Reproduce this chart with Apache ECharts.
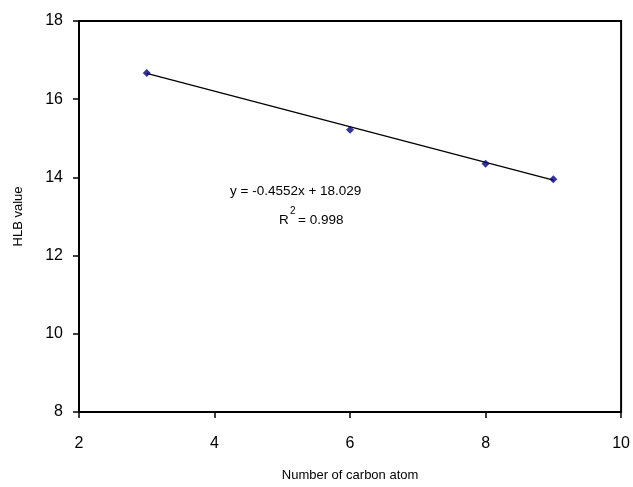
<!DOCTYPE html>
<html><head><meta charset="utf-8">
<script src="https://cdn.jsdelivr.net/npm/echarts@6/dist/echarts.min.js"></script>
<style>html,body{margin:0;padding:0;background:#fff}#c{width:633px;height:487px}</style>
</head><body><div id="c"></div>
<script>
const carbonAtoms = [3, 6, 8, 9];
const hlbValues = [16.67, 15.22, 14.35, 13.95];
const trendX = [3, 9];
const trendY = [16.66, 13.93];
const equationText = 'y = -0.4552x + 18.029';
const r2Text = '0.998';

const pts = carbonAtoms.map((x, i) => [x, hlbValues[i]]);
const trend = trendX.map((x, i) => [x, trendY[i]]);
const font = '"Liberation Sans", Arial, sans-serif';

const chart = echarts.init(document.getElementById('c'));
chart.setOption({
  animation: false,
  backgroundColor: '#fff',
  grid: { left: 79, right: 11, top: 21, bottom: 72, show: true, borderColor: '#000', borderWidth: 2, backgroundColor: '#fff' },
  xAxis: {
    type: 'value', min: 2, max: 10, interval: 2,
    name: 'Number of carbon atom', nameLocation: 'middle', nameGap: 57,
    nameTextStyle: { fontFamily: font, fontSize: 13, color: '#000' },
    axisLine: { lineStyle: { color: '#000', width: 2 } },
    axisTick: { show: true, length: 6, lineStyle: { color: '#000', width: 1.5 } },
    axisLabel: { fontFamily: font, fontSize: 16, color: '#000', margin: 24 },
    splitLine: { show: false }
  },
  yAxis: {
    type: 'value', min: 8, max: 18, interval: 2,
    name: 'HLB value', nameLocation: 'middle', nameGap: 54, nameRotate: 90,
    nameTextStyle: { fontFamily: font, fontSize: 13, color: '#000' },
    axisLine: { lineStyle: { color: '#000', width: 2 } },
    axisTick: { show: true, length: 6, lineStyle: { color: '#000', width: 1.5 } },
    axisLabel: { fontFamily: font, fontSize: 16, color: '#000', margin: 16 },
    splitLine: { show: false }
  },
  series: [
    { type: 'line', data: trend, symbol: 'none', lineStyle: { color: '#000', width: 1.3 }, z: 2 },
    { type: 'scatter', data: pts, symbol: 'diamond', symbolSize: 8, itemStyle: { color: '#00007f' }, z: 3 }
  ],
  graphic: [
    { type: 'text', left: 230, top: 184, style: { text: equationText, font: '13.5px ' + font, fill: '#000' } },
    { type: 'text', left: 279, top: 213, style: { text: 'R', font: '13.5px ' + font, fill: '#000' } },
    { type: 'text', left: 290, top: 206, style: { text: '2', font: '10px ' + font, fill: '#000' } },
    { type: 'text', left: 298, top: 213, style: { text: '= ' + r2Text, font: '13.5px ' + font, fill: '#000' } }
  ]
});
</script>
</body></html>
